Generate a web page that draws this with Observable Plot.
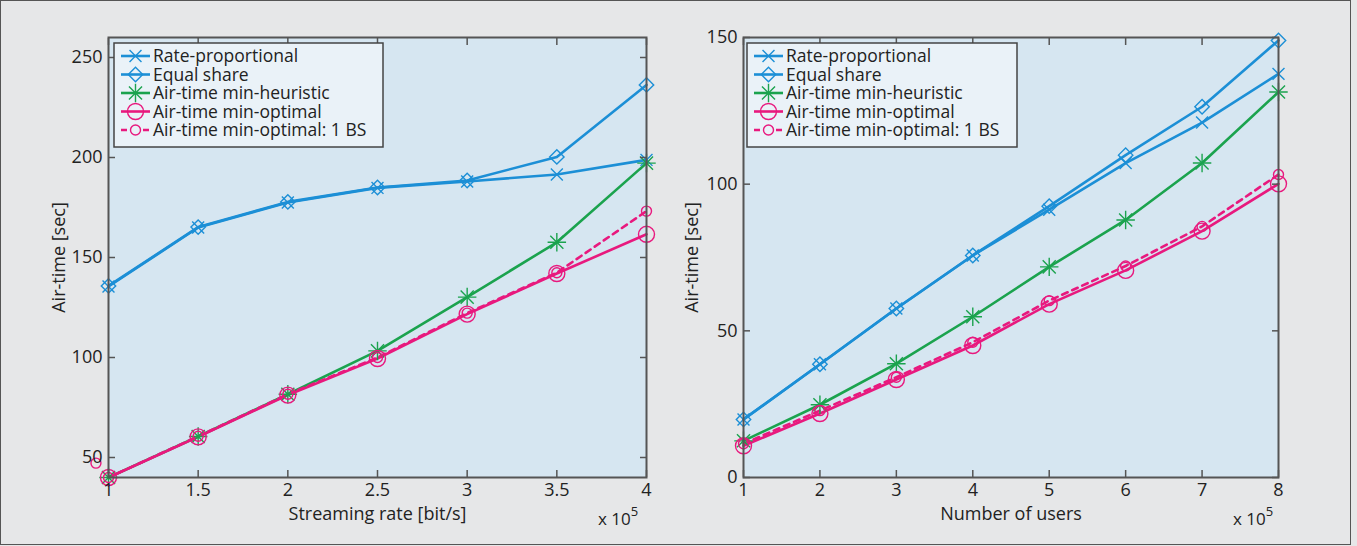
<!DOCTYPE html>
<html><head><meta charset="utf-8">
<script src="https://cdn.jsdelivr.net/npm/d3@7"></script>
<script src="https://cdn.jsdelivr.net/npm/@observablehq/plot@0.6"></script>
<style>
body{margin:0;background:#e6e7e8;font-family:"Open Sans",sans-serif}
#wrap{position:relative;width:1357px;height:546px;background:#e6e7e8;overflow:hidden}
#border{position:absolute;left:0;top:0;width:1351px;height:545px;border:1.5px solid #555;box-sizing:border-box}
.panel{position:absolute;top:0}
.exp{position:absolute;font-size:17px;color:#222;white-space:nowrap;line-height:20px}
.exp sup{font-size:13px;position:relative;top:-2px}
.legend{position:absolute}
</style></head>
<body><div id="wrap"><div id="border"></div></div>
<script>
// ---------- data ----------
const seriesNames = ["Rate-proportional","Equal share","Air-time min-heuristic","Air-time min-optimal","Air-time min-optimal: 1 BS"];
const seriesColors = ["#1c8fd6","#1c8fd6","#1ba34e","#e8197e","#e8197e"];

// Left panel: streaming rate (x 10^5 bit/s)
const rateX = [1,1.5,2,2.5,3,3.5,4];
const leftRateProp  = [135.5,165,177.5,184.8,188,191.5,198.8];
const leftEqual     = [135.8,165.2,177.8,185,188.5,200.3,236.3];
const leftHeuristic = [40,60.5,81.6,103.3,130.2,157.6,197.2];
const leftOptimal   = [40,60.3,81.2,99.5,121.7,142,161.6];
const leftOneBS     = [40,60.6,81.6,100,122.2,142.4,173.2];
const leftStrayX = [0.93], leftStrayY = [47.2];
const leftYTicks = [50,100,150,200,250];

// Right panel: number of users (x 10^5)
const usersX = [1,2,3,4,5,6,7,8];
const rightRateProp  = [19.8,38.6,57.6,75.7,91.3,107.2,121,137.6];
const rightEqual     = [19.8,38.6,57.6,75.7,92.5,109.9,126.4,149];
const rightHeuristic = [12.5,24.8,38.8,54.8,71.8,87.8,107.2,131.4];
const rightOptimal   = [10.8,21.8,33.4,45,59.1,70.6,84,100.1];
const rightOneBS     = [11.5,22.8,34.2,46.1,60.3,72.1,85.6,103.3];
const rightYTicks = [0,50,100,150];

// ---------- drawing ----------
const FONT = "'Open Sans', sans-serif";
const symbolsOf = [["times"],["diamond2"],["plus","times"],["circle"],["circle"]];
const radiusOf = [5.5, 6.5, 6, 8, 5];
const dashOf = [null,null,null,null,"6,5"];

function tableFor(xs, ys){ return xs.map((x,i)=>({x, y: ys[i]})); }

function panel(opts){
  const {xs, series, yDomain, xDomain, yTicks, xLabel, width, ml, mr, stray} = opts;
  const marks = [Plot.frame({fill:"#d6e6f1", stroke:"none"})];
  series.forEach((ys,k)=>{
    const data = tableFor(xs, ys);
    marks.push(Plot.line(data,{x:"x",y:"y",stroke:seriesColors[k],strokeWidth:2.6,strokeDasharray:dashOf[k]}));
  });
  series.forEach((ys,k)=>{
    const data = tableFor(xs, ys);
    symbolsOf[k].forEach(sym=>{
      marks.push(Plot.dot(data,{x:"x",y:"y",symbol:sym,r:radiusOf[k],stroke:seriesColors[k],strokeWidth:1.4,fill:"none"}));
    });
  });
  if (stray){
    marks.push(Plot.dot(stray.x.map((x,i)=>({x,y:stray.y[i]})),{x:"x",y:"y",symbol:"circle",r:5,stroke:seriesColors[4],strokeWidth:1.4,fill:"none"}));
  }
  marks.push(Plot.frame({stroke:"#555", strokeWidth:2}));
  // labels
  marks.push(Plot.axisX({anchor:"bottom",ticks:xs,tickSize:0,tickPadding:6,tickFormat:d=>String(d),fontSize:18,
    label:xLabel,labelAnchor:"center",labelArrow:"none",labelOffset:42}));
  marks.push(Plot.axisY({anchor:"left",ticks:yTicks,tickSize:0,tickPadding:6,fontSize:18,
    label:"Air-time [sec]",labelAnchor:"center",labelArrow:"none",labelOffset:opts.yLabelOffset}));
  // inward ticks on all four sides
  marks.push(Plot.axisX({anchor:"bottom",ticks:xs,tickSize:-7,tickFormat:()=>"",label:null,stroke:"#555",strokeWidth:1.5}));
  marks.push(Plot.axisX({anchor:"top",ticks:xs,tickSize:-7,tickFormat:()=>"",label:null,stroke:"#555",strokeWidth:1.5}));
  marks.push(Plot.axisY({anchor:"left",ticks:yTicks,tickSize:-7,tickFormat:()=>"",label:null,stroke:"#555",strokeWidth:1.5}));
  marks.push(Plot.axisY({anchor:"right",ticks:yTicks,tickSize:-7,tickFormat:()=>"",label:null,stroke:"#555",strokeWidth:1.5}));
  return Plot.plot({
    width, height:546,
    marginLeft:ml, marginRight:mr, marginTop:37, marginBottom:69,
    x:{domain:xDomain}, y:{domain:yDomain},
    style:{fontFamily:FONT,fontSize:"18px",color:"#222",background:"transparent",overflow:"visible"},
    marks
  });
}

function legend(left, top, w){
  const h = 104;
  const svg = d3.create("svg").attr("width",w+4).attr("height",h+4).attr("class","legend")
    .style("left",(left-2)+"px").style("top",(top-2)+"px").style("overflow","visible");
  svg.append("rect").attr("x",2).attr("y",2).attr("width",w).attr("height",h)
    .attr("fill","#eaf2f8").attr("stroke","#444").attr("stroke-width",1.5);
  const symMap = {times:d3.symbolTimes, diamond2:d3.symbolDiamond2, plus:d3.symbolPlus, circle:d3.symbolCircle};
  seriesNames.forEach((name,k)=>{
    const cy = 2 + 13 + k*18.5;
    const x0 = 2 + 7, x1 = 2 + 36, cx = (x0+x1)/2;
    svg.append("line").attr("x1",x0).attr("x2",x1).attr("y1",cy).attr("y2",cy)
      .attr("stroke",seriesColors[k]).attr("stroke-width",2.6).attr("stroke-dasharray",dashOf[k]);
    symbolsOf[k].forEach(sym=>{
      const r = radiusOf[k];
      svg.append("path").attr("d", d3.symbol(symMap[sym], r*r*Math.PI)())
        .attr("transform",`translate(${cx},${cy})`)
        .attr("fill", k===4 ? "#eaf2f8" : "none").attr("stroke",seriesColors[k]).attr("stroke-width",1.4);
    });
    svg.append("text").attr("x",2+39).attr("y",cy).attr("dy","0.35em")
      .attr("font-family",FONT).attr("font-size","17.5px").attr("fill","#222").text(name);
  });
  return svg.node();
}

const wrap = document.getElementById("wrap");

const left = panel({xs:rateX, series:[leftRateProp,leftEqual,leftHeuristic,leftOptimal,leftOneBS],
  yDomain:[40,260], xDomain:[1,4], yTicks:leftYTicks, xLabel:"Streaming rate [bit/s]",
  width:678, ml:108, mr:32, yLabelOffset:56, stray:{x:leftStrayX,y:leftStrayY}});
left.classList.add("panel"); left.style.left="0px";
wrap.appendChild(left);

const right = panel({xs:usersX, series:[rightRateProp,rightEqual,rightHeuristic,rightOptimal,rightOneBS],
  yDomain:[0,150], xDomain:[1,8], yTicks:rightYTicks, xLabel:"Number of users",
  width:679, ml:65, mr:79, yLabelOffset:58});
right.classList.add("panel"); right.style.left="678px";
wrap.appendChild(right);

wrap.appendChild(legend(114, 43, 269));
wrap.appendChild(legend(747, 43, 270));

function exponent(x){
  const d = document.createElement("div");
  d.className = "exp"; d.style.left = x+"px"; d.style.top = "503px";
  d.innerHTML = "x 10<sup>5</sup>";
  wrap.appendChild(d);
}
exponent(598); exponent(1233);
</script>
</body></html>
